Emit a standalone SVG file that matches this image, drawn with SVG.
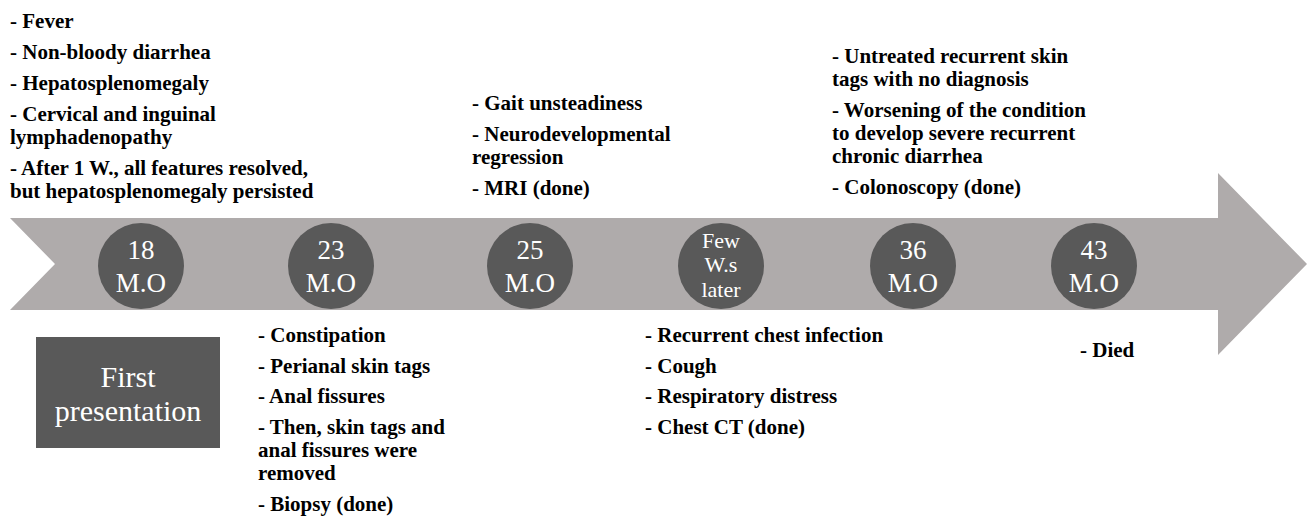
<svg xmlns="http://www.w3.org/2000/svg" width="1309" height="517" viewBox="0 0 1309 517">
<style>
.t{font-family:"Liberation Serif","Times New Roman",serif;font-weight:bold;font-size:21px;fill:#000}
.c{fill:#595959}
.ct{font-family:"Liberation Serif","Times New Roman",serif;font-size:27px;fill:#fff;text-anchor:middle}
.cs{font-family:"Liberation Serif","Times New Roman",serif;font-size:22px;fill:#fff;text-anchor:middle}
.fp{font-family:"Liberation Serif","Times New Roman",serif;font-size:30px;fill:#fff;text-anchor:middle}
</style>
<rect width="1309" height="517" fill="#fff"/>
<g id="connectors">
<polygon points="10,218 1218,218 1218,173 1307,264 1218,355 1218,310 10,310 55,264" fill="#afabab"/>
</g>
<g id="n18"><circle class="c" cx="141" cy="266" r="43"/><text class="ct" x="141" y="259">18</text><text class="ct" x="141" y="292">M.O</text></g>
<g id="n23"><circle class="c" cx="331" cy="266" r="43"/><text class="ct" x="331" y="259">23</text><text class="ct" x="331" y="292">M.O</text></g>
<g id="n25"><circle class="c" cx="530" cy="266" r="43"/><text class="ct" x="530" y="259">25</text><text class="ct" x="530" y="292">M.O</text></g>
<g id="nfew"><circle class="c" cx="721" cy="266" r="43"/><text class="cs" x="721" y="248">Few</text><text class="cs" x="721" y="272">W.s</text><text class="cs" x="721" y="297">later</text></g>
<g id="n36"><circle class="c" cx="913" cy="266" r="43"/><text class="ct" x="913" y="259">36</text><text class="ct" x="913" y="292">M.O</text></g>
<g id="n43"><circle class="c" cx="1094" cy="266" r="43"/><text class="ct" x="1094" y="259">43</text><text class="ct" x="1094" y="292">M.O</text></g>
<g id="first"><rect x="36" y="337" width="184" height="111" fill="#595959"/><text class="fp" x="128" y="387">First</text><text class="fp" x="128" y="421">presentation</text></g>
<g id="notes18">
<text class="t" x="10" y="28">- Fever</text>
<text class="t" x="10" y="59">- Non-bloody diarrhea</text>
<text class="t" x="10" y="90">- Hepatosplenomegaly</text>
<text class="t" x="10" y="121">- Cervical and inguinal</text>
<text class="t" x="10" y="144">lymphadenopathy</text>
<text class="t" x="10" y="175">- After 1 W., all features resolved,</text>
<text class="t" x="10" y="198">but hepatosplenomegaly persisted</text>
</g>
<g id="notes23">
<text class="t" x="258" y="342">- Constipation</text>
<text class="t" x="258" y="373">- Perianal skin tags</text>
<text class="t" x="258" y="403">- Anal fissures</text>
<text class="t" x="258" y="434">- Then, skin tags and</text>
<text class="t" x="258" y="457">anal fissures were</text>
<text class="t" x="258" y="480">removed</text>
<text class="t" x="258" y="511">- Biopsy (done)</text>
</g>
<g id="notes25">
<text class="t" x="472" y="110">- Gait unsteadiness</text>
<text class="t" x="472" y="141">- Neurodevelopmental</text>
<text class="t" x="472" y="164">regression</text>
<text class="t" x="472" y="195">- MRI (done)</text>
</g>
<g id="notesfew">
<text class="t" x="645" y="342">- Recurrent chest infection</text>
<text class="t" x="645" y="373">- Cough</text>
<text class="t" x="645" y="403">- Respiratory distress</text>
<text class="t" x="645" y="434">- Chest CT (done)</text>
</g>
<g id="notes36">
<text class="t" x="832" y="63">- Untreated recurrent skin</text>
<text class="t" x="832" y="86">tags with no diagnosis</text>
<text class="t" x="832" y="117">- Worsening of the condition</text>
<text class="t" x="832" y="140">to develop severe recurrent</text>
<text class="t" x="832" y="163">chronic diarrhea</text>
<text class="t" x="832" y="194">- Colonoscopy (done)</text>
</g>
<g id="notes43">
<text class="t" x="1080" y="357">- Died</text>
</g>
</svg>
